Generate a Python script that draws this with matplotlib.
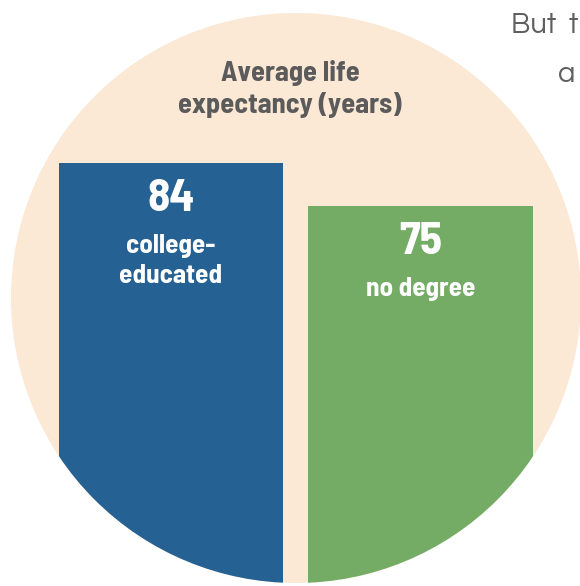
import matplotlib
matplotlib.use('Agg')
import matplotlib.pyplot as plt
from matplotlib.patches import Ellipse

# data
groups = ["college-\neducated", "no degree"]
life_exp = [84, 75]
colors = ["#256192", "#74AC66"]
title_lines = ["Average life", "expectancy (years)"]

peach = "#FBE8D5"
gray = "#5b5b5b"
cond = ["Barlow Semi Condensed", "DejaVu Sans"]
body = ["Questrial", "DejaVu Sans"]

fig = plt.figure(figsize=(5.8, 5.86), dpi=100)
ax = fig.add_axes([0, 0, 1, 1])
ax.set_xlim(-0.685, 1.639)
ax.set_ylim(-4.5, 118.1)
ax.axis('off')

# big peach circle behind everything (axes fraction, so it stays round)
circ = Ellipse((296 / 580, 1 - 298 / 586), 570 / 580, 570 / 586,
               transform=ax.transAxes, facecolor=peach, edgecolor='none', zorder=0)
ax.add_patch(circ)

floor = ax.get_ylim()[0]
x = range(len(life_exp))
bars = ax.bar(x, [v - floor for v in life_exp], bottom=floor, width=0.9,
              color=colors, zorder=1)
for b in bars:
    b.set_clip_path(circ)

# labels inside bars, offsets in points below the bar top
for i, (v, g) in enumerate(zip(life_exp, groups)):
    ax.annotate(str(v), (i, v), xytext=(0, -34.5), textcoords='offset points',
                ha='center', va='baseline', color='white', fontsize=33,
                fontweight='bold', family=cond, zorder=2)
    for k, line in enumerate(g.split("\n")):
        ax.annotate(line, (i, v), xytext=(0, -64.5 - 21.6 * k), textcoords='offset points',
                    ha='center', va='baseline', color='white', fontsize=19.5,
                    fontweight='bold', family=cond, zorder=2)

for k, line in enumerate(title_lines):
    fig.text(290 / 580, 1 - (80.5 + 32.5 * k) / 586, line, ha='center', va='baseline',
             color=gray, fontsize=20.5, fontweight='bold', family=cond)

# cut-off text from the page
fig.text(511 / 580, 1 - 33 / 586, "But  t", ha='left', va='baseline',
         color='#5f5f5f', fontsize=21, family=body)
fig.text(558 / 580, 1 - 82 / 586, "a", ha='left', va='baseline',
         color='#5f5f5f', fontsize=21, family=body)

fig.savefig("out.png", dpi=100)
